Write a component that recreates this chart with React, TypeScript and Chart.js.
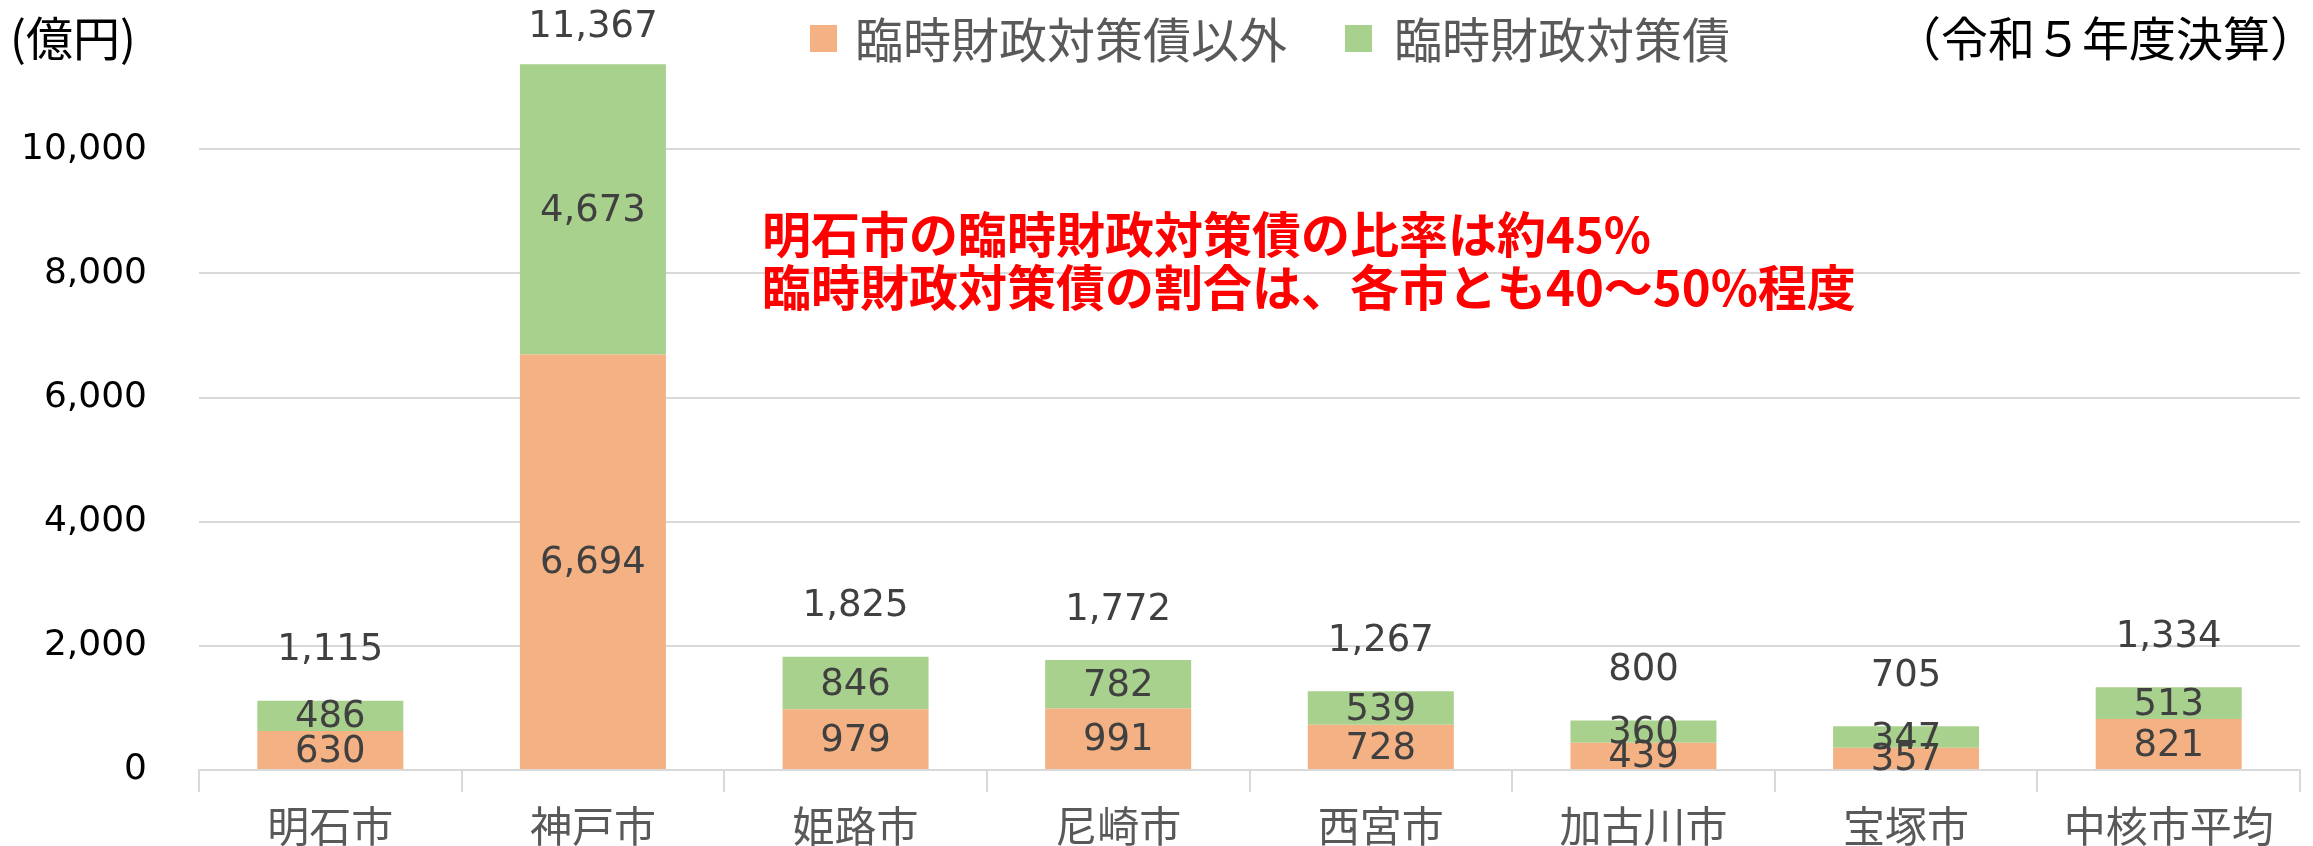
import React, { useEffect, useRef } from "react";
import { Chart, registerables } from "chart.js";
Chart.register(...registerables);

const categories = ["明石市", "神戸市", "姫路市", "尼崎市", "西宮市", "加古川市", "宝塚市", "中核市平均"];
const otherDebt = [630, 6694, 979, 991, 728, 439, 357, 821];
const rinzaiDebt = [486, 4673, 846, 782, 539, 360, 347, 513];
const totals = [1115, 11367, 1825, 1772, 1267, 800, 705, 1334];
const yTicks = [0, 2000, 4000, 6000, 8000, 10000];
const seriesNames = ["臨時財政対策債以外", "臨時財政対策債"];
const seriesColors = ["#F4B183", "#A9D18E"];
const unitLabel = "(億円)";
const periodLabel = "（令和５年度決算）";
const notes = ["明石市の臨時財政対策債の比率は約45%", "臨時財政対策債の割合は、各市とも40～50%程度"];

const FONT = "'Noto Sans CJK JP', 'Noto Sans', sans-serif";
const NUMFONT = "'DejaVu Sans', sans-serif";
const fmt = (v: number) => v.toLocaleString("en-US");

const overlay = {
  id: "overlay",
  afterDatasetsDraw(chart: any) {
    const ctx = chart.ctx as CanvasRenderingContext2D;
    ctx.save();
    // inner labels
    ctx.font = `37px ${NUMFONT}`;
    ctx.fillStyle = "#404040";
    ctx.textAlign = "center";
    ctx.textBaseline = "middle";
    chart.data.datasets.forEach((ds: any, di: number) => {
      const meta = chart.getDatasetMeta(di);
      meta.data.forEach((el: any, i: number) => {
        const y = (el.y + el.base) / 2;
        ctx.fillText(fmt(ds.data[i]), el.x, y + 2);
      });
    });
    // totals
    const topMeta = chart.getDatasetMeta(1);
    topMeta.data.forEach((el: any, i: number) => {
      const y = Math.max(27, el.y - 50);
      ctx.fillText(fmt(totals[i]), el.x, y);
    });
    // legend
    const legendItems = [
      { box: 810, text: 855 },
      { box: 1345, text: 1394 },
    ];
    ctx.textAlign = "left";
    ctx.font = `48px ${FONT}`;
    legendItems.forEach((it, i) => {
      ctx.fillStyle = seriesColors[i];
      ctx.fillRect(it.box, 25, 27, 27);
      ctx.fillStyle = "#595959";
      ctx.fillText(seriesNames[i], it.text, 40);
    });
    // unit + period
    ctx.fillStyle = "#000000";
    ctx.font = `47px ${FONT}`;
    ctx.fillText(unitLabel, 10, 38);
    ctx.textAlign = "right";
    ctx.fillText(periodLabel, 2317, 38);
    // notes
    ctx.textAlign = "left";
    ctx.fillStyle = "#FF0000";
    ctx.font = `bold 49px ${FONT}`;
    ctx.fillText(notes[0], 762, 234);
    ctx.fillText(notes[1], 762, 287);
    ctx.restore();
  },
};

export default function App() {
  const ref = useRef<HTMLCanvasElement>(null);
  useEffect(() => {
    document.body.style.margin = "0";
    const chart = new Chart(ref.current!, {
      type: "bar",
      data: {
        labels: categories,
        datasets: [
          { label: seriesNames[0], data: otherDebt, backgroundColor: seriesColors[0], barPercentage: 0.556, categoryPercentage: 1 },
          { label: seriesNames[1], data: rinzaiDebt, backgroundColor: seriesColors[1], barPercentage: 0.556, categoryPercentage: 1 },
        ],
      },
      options: {
        animation: false,
        responsive: false,
        layout: { padding: { top: 25, right: 13, left: 0, bottom: 0 } },
        plugins: { legend: { display: false }, tooltip: { enabled: false } },
        scales: {
          x: {
            stacked: true,
            afterFit: (s: any) => { s.height = 76; },
            grid: { drawOnChartArea: false, drawTicks: true, tickLength: 22, color: "#d9d9d9", lineWidth: 2, offset: true },
            border: { color: "#d9d9d9", width: 2 },
            ticks: { color: "#595959", font: { family: FONT, size: 42 }, padding: 9 },
          },
          y: {
            stacked: true,
            min: 0,
            max: 12000,
            afterFit: (s: any) => { s.width = 199; },
            afterBuildTicks: (s: any) => { s.ticks = yTicks.map((v) => ({ value: v })); },
            grid: { color: "#d9d9d9", lineWidth: 2, drawTicks: true, tickLength: 52, tickColor: "rgba(0,0,0,0)" },
            border: { display: false },
            ticks: { color: "#000000", font: { family: NUMFONT, size: 36 }, padding: 0, callback: (v: any) => fmt(Number(v)) },
          },
        },
      },
      plugins: [overlay],
    });
    return () => chart.destroy();
  }, []);
  return <canvas ref={ref} width={2313} height={846} style={{ display: "block" }} />;
}
